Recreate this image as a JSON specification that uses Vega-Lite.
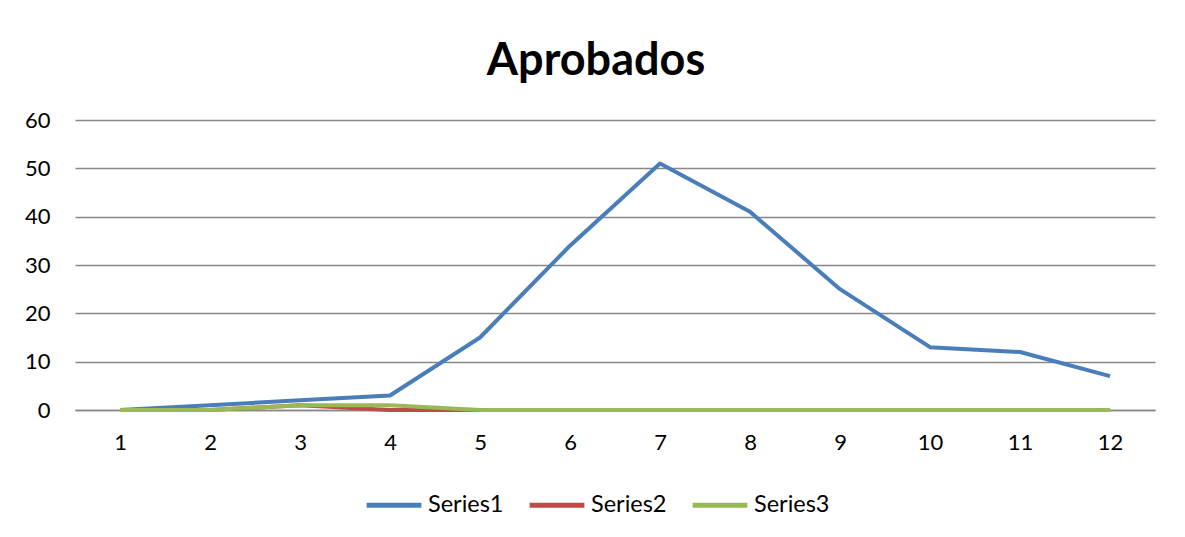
{
  "$schema": "https://vega.github.io/schema/vega-lite/v6.json",
  "autosize": "none",
  "width": 1080,
  "height": 290,
  "padding": {"left": 75, "top": 120, "right": 30, "bottom": 127},
  "background": "white",
  "title": {"text": "Aprobados", "fontSize": 45, "font": "Lato", "fontWeight": "bold", "color": "#000000", "anchor": "middle", "dx": -19, "offset": 25},
  "config": {"view": {"stroke": null}, "font": "Lato"},
  "data": {"values": [
    {"x": 1, "series": "Series1", "value": 0},
    {"x": 2, "series": "Series1", "value": 1},
    {"x": 3, "series": "Series1", "value": 2},
    {"x": 4, "series": "Series1", "value": 3},
    {"x": 5, "series": "Series1", "value": 15},
    {"x": 6, "series": "Series1", "value": 34},
    {"x": 7, "series": "Series1", "value": 51},
    {"x": 8, "series": "Series1", "value": 41},
    {"x": 9, "series": "Series1", "value": 25},
    {"x": 10, "series": "Series1", "value": 13},
    {"x": 11, "series": "Series1", "value": 12},
    {"x": 12, "series": "Series1", "value": 7},
    {"x": 1, "series": "Series2", "value": 0},
    {"x": 2, "series": "Series2", "value": 0},
    {"x": 3, "series": "Series2", "value": 1},
    {"x": 4, "series": "Series2", "value": 0},
    {"x": 5, "series": "Series2", "value": 0},
    {"x": 6, "series": "Series2", "value": 0},
    {"x": 7, "series": "Series2", "value": 0},
    {"x": 8, "series": "Series2", "value": 0},
    {"x": 9, "series": "Series2", "value": 0},
    {"x": 10, "series": "Series2", "value": 0},
    {"x": 11, "series": "Series2", "value": 0},
    {"x": 12, "series": "Series2", "value": 0},
    {"x": 1, "series": "Series3", "value": 0},
    {"x": 2, "series": "Series3", "value": 0},
    {"x": 3, "series": "Series3", "value": 1},
    {"x": 4, "series": "Series3", "value": 1},
    {"x": 5, "series": "Series3", "value": 0},
    {"x": 6, "series": "Series3", "value": 0},
    {"x": 7, "series": "Series3", "value": 0},
    {"x": 8, "series": "Series3", "value": 0},
    {"x": 9, "series": "Series3", "value": 0},
    {"x": 10, "series": "Series3", "value": 0},
    {"x": 11, "series": "Series3", "value": 0},
    {"x": 12, "series": "Series3", "value": 0}
  ]},
  "mark": {"type": "line", "strokeWidth": 4, "strokeJoin": "round"},
  "encoding": {
    "x": {"field": "x", "type": "ordinal", "scale": {"type": "point", "padding": 0.5},
      "axis": {"title": null, "labelAngle": 0, "labelFontSize": 22, "labelColor": "#000000", "labelPadding": 22, "ticks": false, "domainColor": "#888888", "domainWidth": 1.5, "grid": false}},
    "y": {"field": "value", "type": "quantitative", "scale": {"domain": [0, 60], "nice": false},
      "axis": {"title": null, "values": [0, 10, 20, 30, 40, 50, 60], "labelFontSize": 22, "labelColor": "#000000", "labelPadding": 25, "ticks": false, "domain": false, "gridColor": "#888888", "gridWidth": 1.5}},
    "color": {"field": "series", "type": "nominal",
      "scale": {"domain": ["Series1", "Series2", "Series3"], "range": ["#4A7EBB", "#BE4B48", "#98B954"]},
      "legend": {"title": null, "orient": "none", "legendX": 289, "legendY": 355, "direction": "horizontal", "symbolType": "stroke", "symbolSize": 3000, "symbolStrokeWidth": 5, "labelFontSize": 23.5, "labelColor": "#000000", "columnPadding": 15, "labelOffset": 4}}
  }
}
